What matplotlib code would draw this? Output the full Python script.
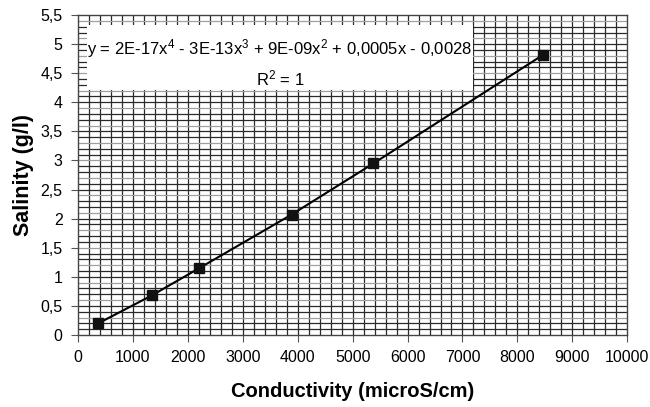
import matplotlib
matplotlib.use('Agg')
import matplotlib.pyplot as plt
from matplotlib.patches import Rectangle
import numpy as np

plt.rcParams['font.family'] = ['Liberation Sans', 'DejaVu Sans']
plt.rcParams['mathtext.fontset'] = 'custom'
plt.rcParams['mathtext.rm'] = 'Liberation Sans'
plt.rcParams['mathtext.default'] = 'regular'

# conductivity (microS/cm) vs salinity (g/l)
conductivity = [370, 1345, 2210, 3890, 5380, 8475]
salinity = [0.20, 0.68, 1.15, 2.07, 2.95, 4.82]

x_ticks = np.arange(0, 10001, 1000)
y_ticks = np.arange(0, 5.51, 0.5)
y_labels = [('%g' % v).replace('.', ',') for v in y_ticks]

fig = plt.figure(figsize=(6.5, 4.07), dpi=100)
ax = fig.add_axes([0.12, 0.177, 0.845, 0.786])

ax.set_xlim(0, 10000)
ax.set_ylim(0, 5.5)

# dense millimetre-paper style grid
for xv in np.arange(200, 10000, 200):
    ax.axvline(xv, color='#2a2a2a', lw=0.9, zorder=1)
for i, yv in enumerate(np.arange(0.1, 5.5, 0.1)):
    c = '#2a2a2a' if i % 3 != 2 else '#a0a0a0'
    ax.axhline(yv, color=c, lw=0.9, zorder=1)

ax.plot(conductivity, salinity, color='black', lw=1.5, marker='s',
        markersize=6.5, markerfacecolor='#111111', markeredgecolor='#111111', zorder=4)

# white label box of the trend line
ax.add_patch(Rectangle((0.016, 0.766), 0.703, 0.204, transform=ax.transAxes,
                       facecolor='white', edgecolor='none', zorder=3))
ax.text(0.368, 0.852,
        'y = 2E-17x$^{4}$ - 3E-13x$^{3}$ + 9E-09x$^{2}$ + 0,0005x - 0,0028\nR$^{2}$ = 1',
        transform=ax.transAxes, ha='center', va='center', multialignment='center',
        fontsize=12, linespacing=1.5, zorder=3.5)

ax.set_xticks(x_ticks)
ax.set_xticklabels([str(v) for v in x_ticks])
ax.set_yticks(y_ticks)
ax.set_yticklabels(y_labels)
ax.tick_params(direction='out', length=5, width=0.8, color='#555555',
               labelsize=11.5, pad=6)

for s in ax.spines.values():
    s.set_color('#444444')
    s.set_linewidth(1.0)
    s.set_zorder(5)

ax.set_xlabel('Conductivity (microS/cm)', fontsize=14.5, fontweight='bold', labelpad=12)
ax.set_ylabel('Salinity (g/l)', fontsize=15.5, fontweight='bold', labelpad=5)

fig.savefig('out.png', dpi=100)
